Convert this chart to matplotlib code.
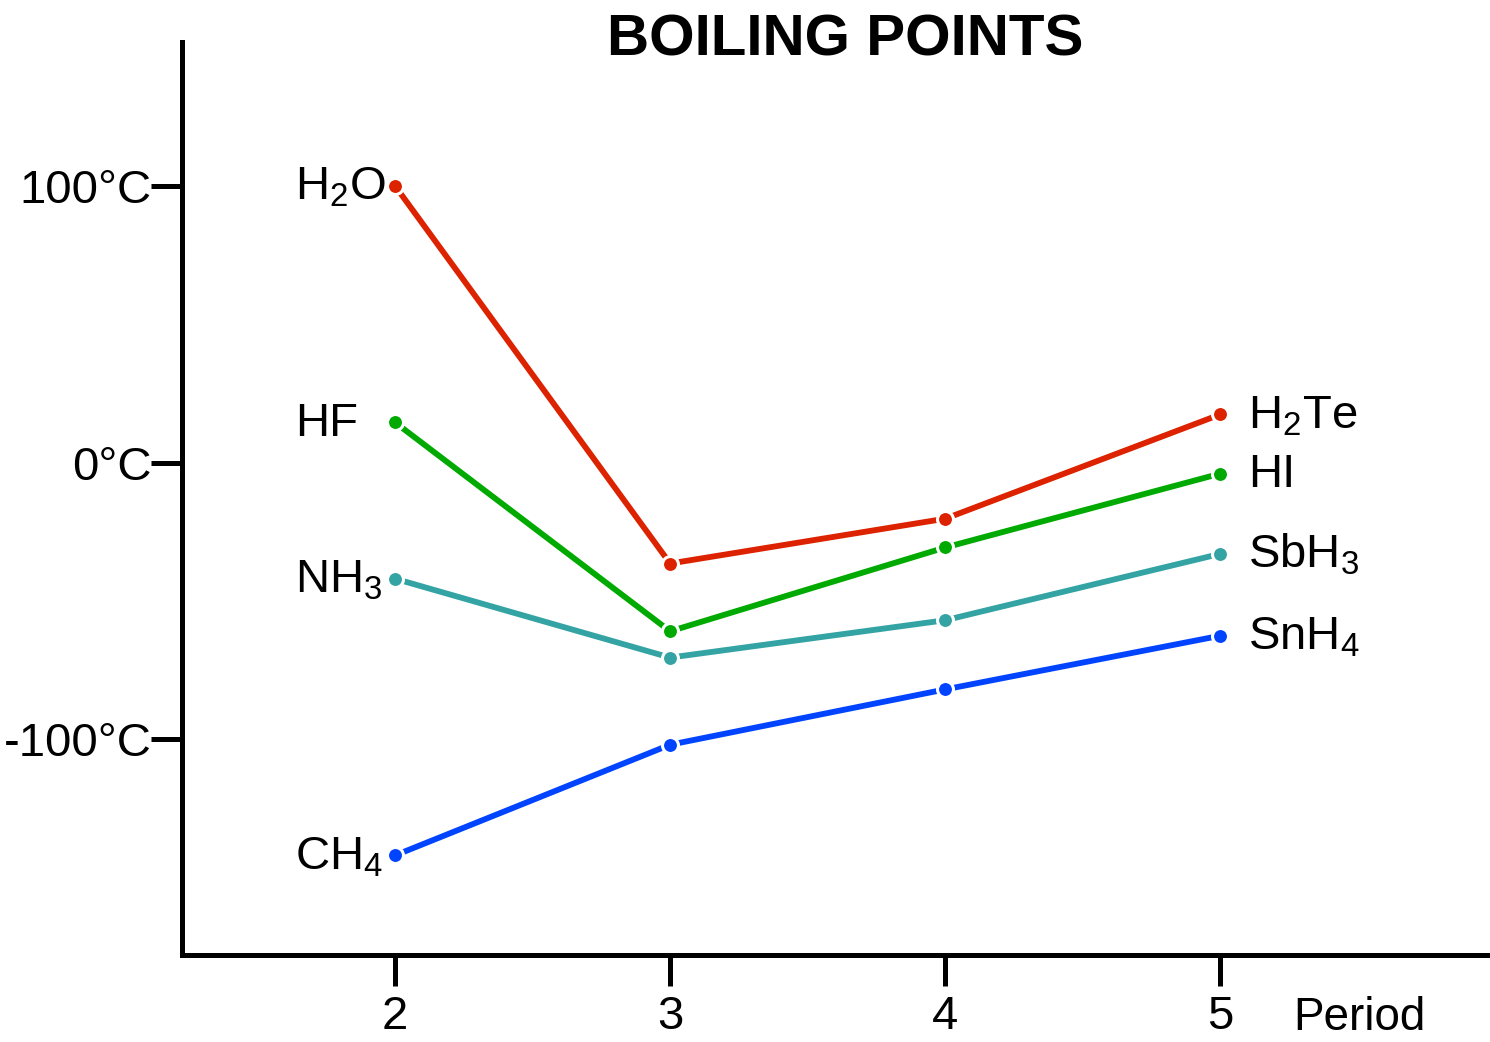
import matplotlib
matplotlib.use("Agg")
import matplotlib.pyplot as plt

# Boiling points (deg C), by period 2..5
periods = [2, 3, 4, 5]
group14 = [-142, -102, -82, -62.6]   # CH4, SiH4, GeH4, SnH4
group15 = [-42, -70.5, -57, -33]     # NH3, PH3, AsH3, SbH3
group16 = [100, -36.5, -20.3, 17.4]  # H2O, H2S, H2Se, H2Te
group17 = [14.5, -61, -30.7, -4]     # HF, HCl, HBr, HI

left_labels = ["H$_2$O", "HF", "NH$_3$", "CH$_4$"]
right_labels = ["H$_2$Te", "HI", "SbH$_3$", "SnH$_4$"]

yticks = [-100, 0, 100]
ytick_labels = ["-100°C", "0°C", "100°C"]

plt.rcParams['font.family'] = ['Liberation Sans', 'DejaVu Sans']
plt.rcParams['mathtext.fontset'] = 'custom'
plt.rcParams['mathtext.rm'] = 'Liberation Sans'
plt.rcParams['mathtext.it'] = 'Liberation Sans'
plt.rcParams['mathtext.default'] = 'regular'

fig = plt.figure(figsize=(14.9, 10.42), dpi=100)
ax = fig.add_axes([0.1221, 0.0835, 0.8779, 0.8762])

series = [
    (group16, "#dd2200"),
    (group17, "#00aa00"),
    (group15, "#33a3a3"),
    (group14, "#0044ff"),
]
for vals, col in series:
    ax.plot(periods, vals, color=col, lw=4.2, marker='o', ms=11.5,
            mfc=col, mec='white', mew=2.2, zorder=3)

# formula labels next to the end points
for lab, vals in zip(left_labels, [group16, group17, group15, group14]):
    ax.annotate(lab, xy=(1.636, vals[0]), xytext=(0, -10), textcoords='offset points',
                ha='left', va='baseline', fontsize=34)
for lab, vals in zip(right_labels, [group16, group17, group15, group14]):
    ax.annotate(lab, xy=(5.10, vals[-1]), xytext=(0, -10), textcoords='offset points',
                ha='left', va='baseline', fontsize=34)

ax.set_xlim(1.2255, 5.98)
ax.set_ylim(-178, 152)
ax.set_xticks(periods)
ax.set_xticklabels([str(p) for p in periods])
ax.set_yticks(yticks)
ax.set_yticklabels(ytick_labels)

for s in ['top', 'right']:
    ax.spines[s].set_visible(False)
for s in ['left', 'bottom']:
    ax.spines[s].set_linewidth(3.6)

ax.tick_params(axis='both', length=22, width=3.6, labelsize=34)
ax.tick_params(axis='y', pad=0)
ax.tick_params(axis='x', pad=7)

fig.text(1293 / 1490, 1 - 1030 / 1042, "Period", ha='left', va='baseline',
         fontsize=33)

fig.text(0.567, 1 - 55 / 1042, "BOILING POINTS", ha='center', va='baseline',
         fontsize=42, fontweight='bold')

fig.savefig("out.png", dpi=100)
